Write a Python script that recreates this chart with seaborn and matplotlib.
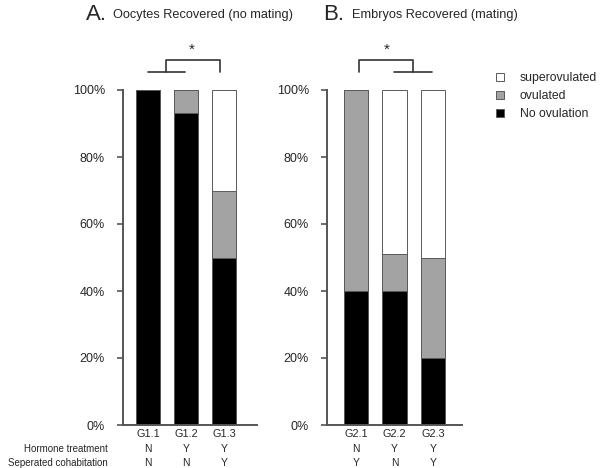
import numpy as np
import pandas as pd
import matplotlib
matplotlib.use("Agg")
import matplotlib.pyplot as plt
from matplotlib.patches import Patch
from matplotlib.transforms import blended_transform_factory
import seaborn as sns

# data (percent of animals per group)
groups_a = ["G1.1", "G1.2", "G1.3"]
none_a = [100, 93, 50]
ovul_a = [0, 7, 20]
super_a = [0, 0, 30]

groups_b = ["G2.1", "G2.2", "G2.3"]
none_b = [40, 40, 20]
ovul_b = [60, 11, 30]
super_b = [0, 49, 50]

hormone_a = ["N", "Y", "Y"]
separated_a = ["N", "N", "Y"]
hormone_b = ["N", "Y", "Y"]
separated_b = ["Y", "N", "Y"]

sns.set_theme(style="white")
plt.rcParams["font.family"] = ["Liberation Sans", "DejaVu Sans"]

W, H = 600, 468
fig = plt.figure(figsize=(W / 100, H / 100), dpi=100)

def px_axes(x0, x1, ytop, ybot):
    return fig.add_axes([x0 / W, 1 - ybot / H, (x1 - x0) / W, (ybot - ytop) / H])

ax_a = px_axes(123, 257, 90, 425)
ax_b = px_axes(327, 462, 90, 425)

colors = {"super": "white", "ovul": "#a3a3a3", "none": "black"}
edge = "#5a5a5a"

def stacked(ax, groups, none, ovul, sup, xlim):
    df = pd.DataFrame({"group": groups,
                       "none": np.array(none) / 100,
                       "ovul": (np.array(none) + np.array(ovul)) / 100,
                       "super": (np.array(none) + np.array(ovul) + np.array(sup)) / 100})
    for key in ["super", "ovul", "none"]:
        sns.barplot(data=df, x="group", y=key, color=colors[key], saturation=1,
                    edgecolor=edge, linewidth=0.7, width=0.63, ax=ax, order=groups)
    ax.set_xlim(*xlim)
    ax.set_ylim(0, 1)
    ax.set_yticks([0, 0.2, 0.4, 0.6, 0.8, 1.0])
    ax.set_yticklabels(["0%", "20%", "40%", "60%", "80%", "100%"])
    ax.set_xlabel("")
    ax.set_ylabel("")
    for s in ["top", "right"]:
        ax.spines[s].set_visible(False)
    for s in ["left", "bottom"]:
        ax.spines[s].set_color("#555555")
        ax.spines[s].set_linewidth(1.4)
    ax.tick_params(axis="y", left=True, length=4, width=1.2, color="#555555",
                   pad=9, labelsize=9)
    ax.tick_params(axis="x", bottom=False, length=0, pad=3, labelsize=7.8)

stacked(ax_a, groups_a, none_a, ovul_a, super_a, (-0.66, 2.87))
stacked(ax_b, groups_b, none_b, ovul_b, super_b, (-0.75, 2.75))

# significance brackets (axes-y above the top)
ylo, yhi = 1.054, 1.09
t = blended_transform_factory(ax_a.transData, ax_a.transAxes)
ax_a.plot([0.0, 0.97], [ylo, ylo], color="#333333", lw=1.2, clip_on=False, transform=t)
ax_a.plot([0.47, 0.47, 1.89, 1.89], [ylo, yhi, yhi, ylo], color="#333333", lw=1.2,
          clip_on=False, transform=t)
ax_a.text(1.16, 1.10, "*", transform=t, ha="center", va="bottom", fontsize=11)

t = blended_transform_factory(ax_b.transData, ax_b.transAxes)
ax_b.plot([0.99, 1.97], [ylo, ylo], color="#333333", lw=1.2, clip_on=False, transform=t)
ax_b.plot([0.09, 0.09, 1.48, 1.48], [ylo, yhi, yhi, ylo], color="#333333", lw=1.2,
          clip_on=False, transform=t)
ax_b.text(0.81, 1.10, "*", transform=t, ha="center", va="bottom", fontsize=11)

# panel titles
fig.text(86 / W, 1 - 15 / H, "A.", fontsize=16, va="center", ha="left")
fig.text(113 / W, 1 - 15 / H, "Oocytes Recovered (no mating)", fontsize=9.2,
         va="center", ha="left")
fig.text(323 / W, 1 - 15 / H, "B.", fontsize=16, va="center", ha="left")
fig.text(352 / W, 1 - 15 / H, "Embryos Recovered (mating)", fontsize=9.2,
         va="center", ha="left")

# treatment rows
fig.text(108 / W, 1 - 449 / H, "Hormone treatment", fontsize=7, ha="right", va="center")
fig.text(108 / W, 1 - 463 / H, "Seperated cohabitation", fontsize=7, ha="right", va="center")
for ax, hor, sep in [(ax_a, hormone_a, separated_a), (ax_b, hormone_b, separated_b)]:
    t = blended_transform_factory(ax.transData, fig.transFigure)
    for i, (h, s) in enumerate(zip(hor, sep)):
        ax.text(i, 1 - 449 / H, h, transform=t, ha="center", va="center", fontsize=7.5)
        ax.text(i, 1 - 463 / H, s, transform=t, ha="center", va="center", fontsize=7.5)

# legend
handles = [Patch(facecolor=colors[k], edgecolor=edge, linewidth=0.7)
           for k in ["super", "ovul", "none"]]
fig.legend(handles, ["superovulated", "ovulated", "No ovulation"],
           loc="upper left", bbox_to_anchor=(490 / W, 1 - 66 / H), frameon=False,
           fontsize=8.8, handlelength=0.65, handleheight=0.65, handletextpad=1.3,
           labelspacing=0.5, borderpad=0)

fig.savefig("out.png", dpi=100, facecolor="white")
